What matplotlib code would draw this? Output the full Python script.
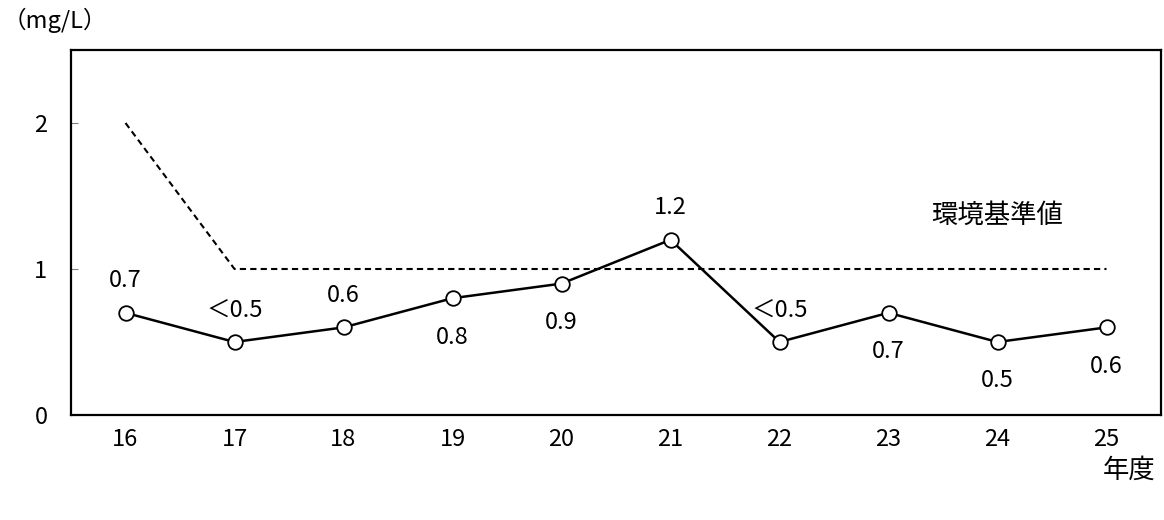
import matplotlib
matplotlib.use('Agg')
import matplotlib.pyplot as plt

plt.rcParams['font.family'] = ['Noto Sans CJK JP', 'DejaVu Sans']

years = ['16', '17', '18', '19', '20', '21', '22', '23', '24', '25']
values = [0.7, 0.5, 0.6, 0.8, 0.9, 1.2, 0.5, 0.7, 0.5, 0.6]
labels = ['0.7', '＜0.5', '0.6', '0.8', '0.9', '1.2', '＜0.5', '0.7', '0.5', '0.6']
above = [True, True, True, False, False, True, True, False, False, False]
standard = [2, 1, 1, 1, 1, 1, 1, 1, 1, 1]

fig = plt.figure(figsize=(11.64, 5.2), dpi=100)
ax = fig.add_axes([71 / 1164, 1 - 415 / 520, 1090 / 1164, 365 / 520])

x = list(range(len(years)))
ax.plot(x, standard, color='black', lw=1.5, ls=(0, (3, 2)))
ax.plot(x, values, color='black', lw=1.8, marker='o', ms=10.5,
        mfc='white', mec='black', mew=1.3, zorder=5)

for xi, v, lab, up in zip(x, values, labels, above):
    off = 23 if up else -28
    ax.annotate(lab, (xi, v), xytext=(0, off), textcoords='offset points',
                ha='center', va='center', fontsize=17)

ax.text(8.0, 1.37, '環境基準値', ha='center', va='center', fontsize=19)

ax.set_xlim(-0.5, len(years) - 0.5)
ax.set_ylim(0, 2.5)
ax.set_yticks([0, 1, 2])
ax.set_xticks(x)
ax.set_xticklabels(years)
ax.tick_params(axis='y', direction='in', length=5, color='gray', labelsize=17, pad=17)
ax.tick_params(axis='x', length=0, labelsize=17, pad=9)
for s in ax.spines.values():
    s.set_linewidth(1.6)

fig.text(3 / 1164, 1 - 20 / 520, '（mg/L）', ha='left', va='center', fontsize=17)
fig.text(1129 / 1164, 1 - 470 / 520, '年度', ha='center', va='center', fontsize=19)

fig.savefig('out.png', dpi=100)
